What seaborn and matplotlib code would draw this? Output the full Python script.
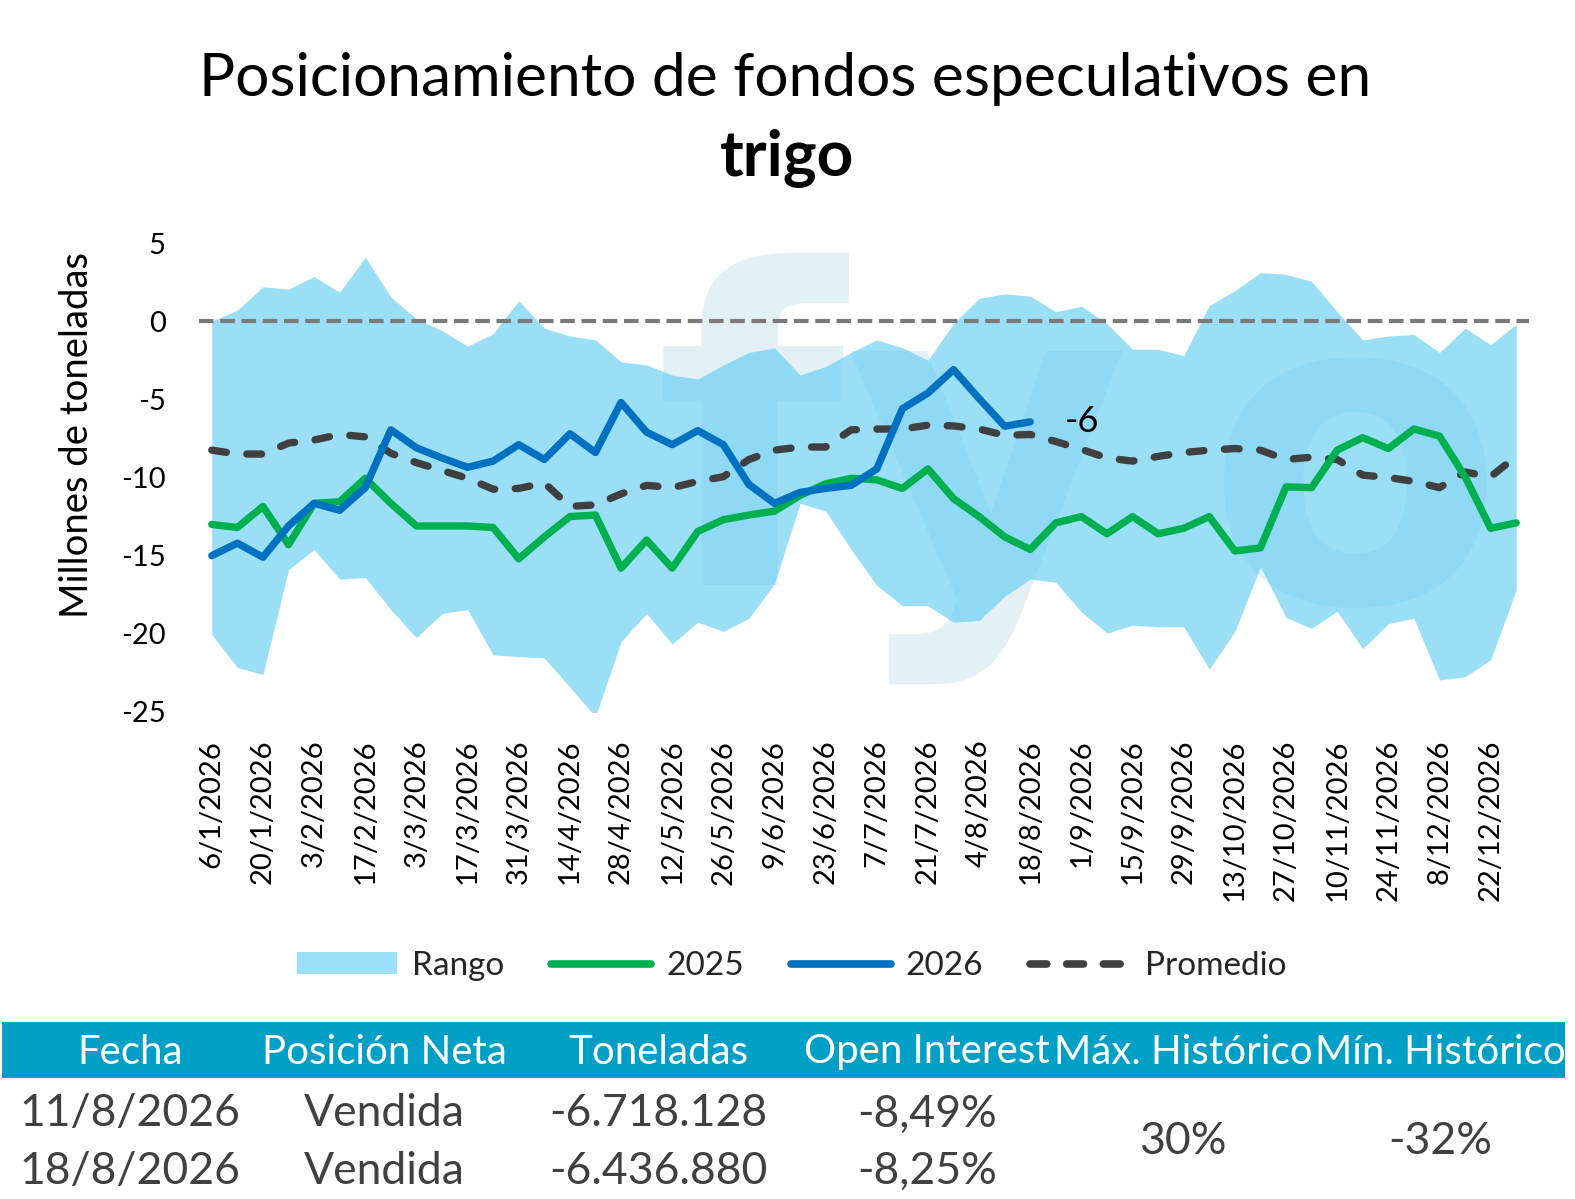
import numpy as np
import pandas as pd
import seaborn as sns
import matplotlib
matplotlib.use("Agg")
from matplotlib import pyplot as plt
from matplotlib.patches import Rectangle, Patch, PathPatch
from matplotlib.lines import Line2D
from matplotlib.textpath import TextPath
from matplotlib.font_manager import FontProperties
from matplotlib.transforms import Affine2D

# weekly dates (Tuesdays) of 2026
fechas = pd.date_range("2026-01-06", periods=52, freq="7D")
etiquetas = [f"{d.day}/{d.month}/{d.year}" for d in fechas]

# historic range (millions of tonnes)
rango_max = [0.0, 0.7, 2.2, 2.05, 2.85, 1.85, 4.1, 1.55, 0.15, -0.6,
             -1.6, -0.8, 1.3, -0.45, -0.95, -1.2, -2.6, -2.8, -3.45, -3.7,
             -2.8, -2.0, -1.7, -3.45, -2.9, -2.0, -1.2, -1.7, -2.5, -0.15,
             1.45, 1.75, 1.6, 0.6, 0.95, -0.15, -1.8, -1.8, -2.2, 1.0,
             1.95, 3.1, 3.0, 2.55, 0.6, -1.2, -0.95, -0.85, -2.0, -0.45,
             -1.5, -0.2]
rango_min = [-20.05, -22.15, -22.6, -15.9, -14.6, -16.5, -16.4, -18.45, -20.25, -18.7,
             -18.45, -21.35, -21.45, -21.55, -23.4, -25.3, -20.5, -18.7, -20.65, -19.25,
             -19.85, -19.0, -16.8, -11.65, -12.15, -14.6, -16.9, -18.2, -18.2, -19.25,
             -19.15, -17.6, -16.5, -16.7, -18.6, -19.95, -19.45, -19.55, -19.55, -22.25,
             -19.85, -15.7, -18.95, -19.65, -18.55, -20.95, -19.35, -19.0, -22.95, -22.75,
             -21.65, -17.2]
serie_2025 = [-13.0, -13.2, -11.85, -14.3, -11.65, -11.55, -10.05, -11.65, -13.1, -13.1,
              -13.1, -13.2, -15.2, -13.8, -12.5, -12.4, -15.8, -14.0, -15.8, -13.45,
              -12.7, -12.4, -12.15, -11.15, -10.4, -10.05, -10.15, -10.7, -9.45, -11.35,
              -12.5, -13.8, -14.6, -12.9, -12.5, -13.6, -12.5, -13.6, -13.25, -12.5,
              -14.7, -14.5, -10.6, -10.65, -8.25, -7.45, -8.15, -6.9, -7.35, -9.95,
              -13.25, -12.9]
serie_2026 = [-15.0, -14.2, -15.1, -13.1, -11.65, -12.1, -10.65, -6.95, -8.1, -8.75,
              -9.35, -8.95, -7.9, -8.85, -7.2, -8.4, -5.2, -7.1, -7.9, -7.0,
              -7.9, -10.45, -11.65, -10.95, -10.7, -10.5, -9.45, -5.6, -4.6, -3.1,
              -4.95, -6.72, -6.44]
promedio = [-8.25, -8.5, -8.5, -7.8, -7.6, -7.25, -7.4, -8.45, -9.05, -9.55,
            -10.05, -10.75, -10.7, -10.35, -11.85, -11.75, -11.05, -10.5, -10.65, -10.25,
            -9.95, -8.85, -8.25, -8.05, -8.05, -6.95, -6.9, -6.9, -6.65, -6.7,
            -6.9, -7.3, -7.25, -7.7, -8.2, -8.75, -8.95, -8.65, -8.4, -8.25,
            -8.15, -8.25, -8.85, -8.7, -8.85, -9.85, -10.0, -10.25, -10.65, -9.65,
            -9.95, -8.65]

# table
tabla_cols = ["Fecha", "Posición Neta", "Toneladas", "Open Interest",
              "Máx. Histórico", "Mín. Histórico"]
tabla_fechas = ["11/8/2026", "18/8/2026"]
tabla_pos = ["Vendida", "Vendida"]
tabla_ton = ["-6.718.128", "-6.436.880"]
tabla_oi = ["-8,49%", "-8,25%"]
max_hist = "30%"
min_hist = "-32%"

semanas = np.arange(len(fechas))
df = pd.DataFrame({"semana": semanas, "max": rango_max, "min": rango_min,
                   "2025": serie_2025, "promedio": promedio})
df26 = pd.DataFrame({"semana": semanas[:len(serie_2026)], "2026": serie_2026})

sns.set_theme(style="white")
plt.rcParams["font.family"] = ["Lato", "DejaVu Sans"]
plt.rcParams["axes.unicode_minus"] = False

W, H = 1575, 1199
fig = plt.figure(figsize=(W / 100, H / 100), dpi=100)
ax = fig.add_axes([199 / W, 1 - 712 / H, 1330 / W, 469 / H])

C_RANGO = "#58CAF3"
C_2025 = "#00B050"
C_2026 = "#0070C0"
C_PROM = "#404040"

# faint logo watermark, drawn as shapes (pixel placement)
logo_font = FontProperties(family="DejaVu Sans", weight="bold")
for letra, x_px, base_px in [("f", 655, 585), ("y", 845, 590), ("o", 1205, 602)]:
    tp = TextPath((0, 0), letra, size=437, prop=logo_font)
    ax.add_patch(PathPatch(tp, facecolor="#E3F1F6", edgecolor="none", zorder=0,
                           clip_on=False,
                           transform=Affine2D().translate(x_px, H - base_px)))

ax.fill_between(df["semana"], df["min"], df["max"], color=C_RANGO, alpha=0.6,
                lw=0, zorder=1)
ax.axhline(0, color="#7A7A7A", linewidth=3.0, dashes=(3.5, 1.6), zorder=2)

sns.lineplot(data=df, x="semana", y="promedio", ax=ax, color=C_PROM, linewidth=5.3,
             zorder=3, legend=False)
ax.lines[-1].set_dashes((2.0, 2.8))
ax.lines[-1].set_dash_capstyle("round")
sns.lineplot(data=df, x="semana", y="2025", ax=ax, color=C_2025, linewidth=5.3,
             zorder=4, legend=False)
sns.lineplot(data=df26, x="semana", y="2026", ax=ax, color=C_2026, linewidth=5.3,
             zorder=5, legend=False)
for ln in ax.lines[1:]:
    ln.set_solid_capstyle("round")
    ln.set_solid_joinstyle("round")

ultimo = df26.iloc[-1]
ax.annotate(f"{ultimo['2026']:.0f}", (ultimo["semana"], ultimo["2026"]),
            xytext=(25, 0), textcoords="offset points", fontsize=26,
            color="black", va="center", ha="left", zorder=6)

ax.set_xlim(-0.5, len(fechas) - 0.5)
ax.set_ylim(-25, 5)
ax.set_yticks(np.arange(-25, 6, 5))
ax.set_yticklabels([str(v) for v in np.arange(-25, 6, 5)])
ax.set_xticks(semanas[::2])
ax.set_xticklabels(etiquetas[::2], rotation=90, va="top", ha="center")
ax.tick_params(axis="both", length=0, labelsize=21, labelcolor="black")
ax.tick_params(axis="y", pad=24)
ax.tick_params(axis="x", pad=20)
ax.set_xlabel("")
ax.set_ylabel("Millones de toneladas", fontsize=27.5, color="black")
ax.yaxis.set_label_coords(-0.078, 0.59)
for s in ax.spines.values():
    s.set_visible(False)
ax.grid(False)

# title
fig.text(785 / W, 1 - 96 / H, "Posicionamiento de fondos especulativos en",
         fontsize=43.5, color="black", ha="center", va="baseline")
fig.text(787 / W, 1 - 175 / H, "trigo", fontsize=46, fontweight="bold",
         color="black", ha="center", va="baseline")

# legend
handles = [Patch(facecolor="#9BDFF8", edgecolor="none", label="Rango"),
           Line2D([], [], color=C_2025, lw=5.5, solid_capstyle="round", label="2025"),
           Line2D([], [], color=C_2026, lw=5.5, solid_capstyle="round", label="2026"),
           Line2D([], [], color=C_PROM, lw=5.5, dashes=(2.2, 2.6),
                  dash_capstyle="round", label="Promedio")]
fig.legend(handles=handles, loc="center", bbox_to_anchor=(792 / W, 1 - 966 / H),
           ncol=4, frameon=False, fontsize=24, handlelength=3.0,
           handleheight=0.65, handletextpad=0.45, columnspacing=1.4)

# table
fig.patches.append(Rectangle((2 / W, 1 - 1078 / H), 1563 / W, 56 / H,
                             transform=fig.transFigure, facecolor="#00A0C6",
                             edgecolor="none"))
col_x = [130, 384, 658, 927, 1183, 1440]
col_edges = [(0, 258), (258, 530), (530, 790), (790, 1050), (1050, 1312), (1312, 1575)]
for nombre, xc, (x0, x1) in zip(tabla_cols, col_x, col_edges):
    t = fig.text(xc / W, 1 - 1052 / H, nombre, fontsize=29, color="white",
                 ha="center", va="center")
    clip = Rectangle((x0 / W, 0), (x1 - x0) / W, 1, transform=fig.transFigure)
    t.set_clip_path(clip)

filas_y = [1114, 1171]
for i, yc in enumerate(filas_y):
    for xc, val in zip(col_x[:4], [tabla_fechas[i], tabla_pos[i], tabla_ton[i], tabla_oi[i]]):
        fig.text(xc / W, 1 - yc / H, val, fontsize=32, color="#404040",
                 ha="center", va="center")
fig.text(col_x[4] / W, 1 - 1142 / H, max_hist, fontsize=32, color="#404040",
         ha="center", va="center")
fig.text(col_x[5] / W, 1 - 1142 / H, min_hist, fontsize=32, color="#404040",
         ha="center", va="center")

fig.savefig("out.png", dpi=100, facecolor="white")
